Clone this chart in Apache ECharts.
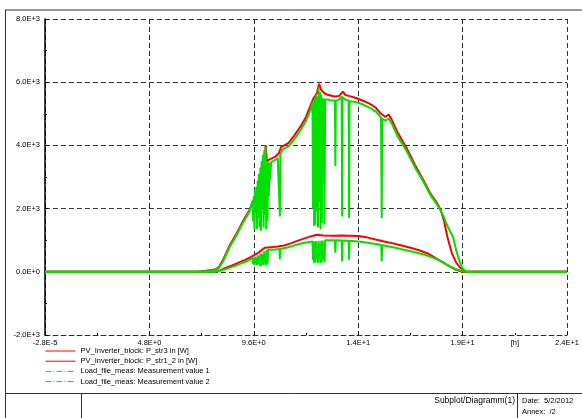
<!DOCTYPE html>
<html>
<head>
<meta charset="utf-8">
<script src="https://cdn.jsdelivr.net/npm/echarts@6/dist/echarts.min.js"></script>
<style>
  html, body { margin: 0; padding: 0; background: #fff; }
  #chart { width: 582px; height: 418px; }
</style>
</head>
<body>
<div id="chart"></div>
<script>
// Tick labels as printed by the plotting tool
const xTickLabels = ['-2.8E-5', '4.8E+0', '9.6E+0', '1.4E+1', '1.9E+1', '2.4E+1'];
const yTickLabels = ['-2.0E+3', '0.0E+0', '2.0E+3', '4.0E+3', '6.0E+3', '8.0E+3'];
const xUnitLabel = '[h]';

const seriesNames = [
  'PV_Inverter_block: P_str3 in [W]',
  'PV_Inverter_block: P_str1_2 in [W]',
  'Load_file_meas: Measurement value 1',
  'Load_file_meas: Measurement value 2'
];

// Simulated string power P_str3 [hour, W]
const pStr3 = [
  [0,0],[7.0,0],[7.4,30],[7.8,70],[8.0,150],[8.2,400],[8.5,850],[8.8,1200],[9.1,1600],[9.4,1950],
  [9.7,2450],[9.9,2900],[10.05,3300],[10.15,4000],[10.2,3500],[10.3,3550],[10.45,3600],[10.6,3650],
  [10.75,3750],[10.85,3950],[11.0,4000],[11.2,4080],[11.45,4300],[11.75,4600],[12.0,4900],[12.2,5250],
  [12.35,5500],[12.5,5650],[12.6,5950],[12.7,5750],[12.85,5650],[13.0,5600],[13.3,5550],[13.5,5560],
  [13.7,5700],[13.8,5600],[14.0,5560],[14.3,5500],[14.6,5420],[14.9,5330],[15.2,5200],[15.45,5000],
  [15.65,4900],[15.8,4980],[15.95,4800],[16.2,4420],[16.6,3950],[17.0,3400],[17.4,2900],[17.7,2500],
  [18.0,2200],[18.2,1950],[18.35,1600],[18.5,1100],[18.7,600],[18.9,300],[19.1,120],[19.35,0],[24,0]
];

// Simulated string power P_str1_2 [hour, W]
const pStr12 = [
  [0,0],[7.8,0],[8.0,30],[8.3,120],[8.6,200],[8.9,290],[9.2,380],[9.5,480],[9.8,600],[10.1,760],
  [10.4,780],[10.7,800],[11.0,830],[11.3,900],[11.6,980],[11.9,1050],[12.2,1120],[12.5,1170],
  [12.8,1150],[13.2,1140],[13.6,1150],[14.0,1140],[14.4,1130],[14.8,1090],[15.2,1020],[15.6,960],
  [16.0,900],[16.4,830],[16.8,760],[17.2,680],[17.6,580],[18.0,420],[18.3,300],[18.6,170],
  [18.9,60],[19.2,0],[24,0]
];

// Measured value 1 [hour, W]
const meas1 = [
  [0,0],[7.0,0],[7.4,20],[7.8,60],[8.0,120],[8.2,350],[8.5,800],[8.8,1150],[9.1,1550],[9.4,1900],[9.5,2150],
  [9.55,2250],[9.57,1600],[9.6,2400],[9.63,1350],[9.66,2600],[9.69,1900],[9.72,2700],[9.75,1350],
  [9.78,2900],[9.81,1700],[9.84,3100],[9.87,1400],[9.9,3300],[9.93,1300],[9.96,3500],[9.99,2000],
  [10.02,3700],[10.05,1400],[10.08,3850],[10.11,1800],[10.14,3950],[10.17,1350],[10.2,3450],
  [10.23,1600],[10.26,3500],[10.29,2400],[10.32,3450],[10.34,2900],[10.4,3480],[10.55,3520],
  [10.7,3600],[10.78,3650],[10.8,1750],[10.82,3700],[10.9,3850],[11.0,3900],[11.2,3970],[11.45,4180],
  [11.75,4480],[12.0,4780],[12.2,5120],
  [12.3,5350],[12.32,2000],[12.34,5400],[12.37,1450],[12.4,5500],[12.43,1500],[12.46,5600],
  [12.49,1900],[12.52,5550],[12.55,1400],[12.58,5850],[12.61,2200],[12.64,5700],[12.67,1350],
  [12.7,5600],[12.73,1550],[12.76,5500],[12.79,2800],[12.82,5480],[12.85,1500],[12.88,5450],
  [13.0,5450],[13.15,5420],[13.33,5420],[13.35,3350],[13.37,5420],[13.5,5430],[13.64,5560],
  [13.66,1750],[13.68,5520],[13.8,5450],[13.96,5420],[13.98,1700],[14.0,5400],[14.3,5370],
  [14.6,5300],[14.9,5200],[15.2,5080],[15.45,4880],[15.48,1700],[15.5,4850],[15.65,4780],
  [15.8,4850],[15.95,4680],[16.2,4300],[16.6,3850],[17.0,3320],[17.4,2850],[17.7,2450],[18.0,2150],
  [18.3,1800],[18.5,1450],[18.76,1100],[18.9,700],[19.05,350],[19.2,100],[19.4,0],[24,0]
];

// Measured value 2 [hour, W]
const meas2 = [
  [0,0],[7.8,0],[8.1,40],[8.4,110],[8.7,180],[9.0,260],[9.3,340],[9.55,440],[9.57,250],[9.6,460],
  [9.63,200],[9.66,480],[9.75,220],[9.78,520],[9.87,200],[9.9,560],[9.93,180],[9.96,580],[10.05,210],
  [10.08,650],[10.17,200],[10.2,690],[10.23,260],[10.26,700],[10.5,700],[10.78,720],[10.8,400],
  [10.82,720],[11.1,760],[11.4,820],[11.7,880],[12.0,930],[12.3,960],[12.32,380],[12.34,960],
  [12.37,280],[12.4,965],[12.43,300],[12.46,970],[12.55,290],[12.58,980],[12.67,280],[12.7,985],
  [12.73,320],[12.76,990],[12.85,300],[12.88,995],[13.0,1000],[13.33,995],[13.35,600],[13.37,995],
  [13.64,990],[13.66,330],[13.68,990],[13.96,985],[13.98,380],[14.0,980],[14.5,950],[15.0,900],
  [15.46,845],[15.48,330],[15.5,840],[16.0,780],[16.5,700],[17.0,620],[17.5,530],[18.0,400],
  [18.3,290],[18.6,180],[18.9,80],[19.2,20],[19.4,0],[24,0]
];

const RED = '#ff0000';
const GREEN = '#00e000';
const FONT = '"Liberation Sans", Arial, sans-serif';

const chart = echarts.init(document.getElementById('chart'), null, { renderer: 'canvas' });

const gridDash = { color: '#333', type: [5, 3], width: 1 };

chart.setOption({
  animation: false,
  backgroundColor: '#fff',
  textStyle: { fontFamily: FONT },
  grid: { left: 45, right: 10, top: 19, height: 316 },
  xAxis: [
    {
      type: 'value', min: 0, max: 24, interval: 4.8,
      axisLine: { show: true, onZero: false, lineStyle: { color: '#333', type: [5, 3], width: 1 } },
      axisTick: { show: true, inside: true, length: 3, lineStyle: { color: '#000' } },
      minorTick: { show: true, splitNumber: 2, length: 2, lineStyle: { color: '#000' } },
      splitLine: { show: true, lineStyle: gridDash },
      axisLabel: {
        fontSize: 7.5, color: '#000', margin: 4, fontFamily: FONT,
        formatter: (v) => xTickLabels[Math.round(v / 4.8)] ?? ''
      }
    },
    {
      type: 'value', min: 0, max: 24, interval: 2.4, position: 'bottom',
      axisLine: { show: false }, axisTick: { show: false }, splitLine: { show: false },
      axisLabel: {
        fontSize: 7.5, color: '#000', margin: 4, fontFamily: FONT,
        formatter: (v) => Math.abs(v - 21.6) < 1e-6 ? xUnitLabel : ''
      }
    }
  ],
  yAxis: {
    type: 'value', min: -2000, max: 8000, interval: 2000,
    axisLine: { show: true, onZero: false, lineStyle: { color: '#000', width: 1.5 } },
    axisTick: { show: true, inside: true, length: 3, lineStyle: { color: '#000' } },
    minorTick: { show: true, splitNumber: 2, length: 2, lineStyle: { color: '#000' } },
    splitLine: { show: true, lineStyle: gridDash },
    axisLabel: {
      fontSize: 7.5, color: '#000', margin: 5, fontFamily: FONT,
      formatter: (v) => yTickLabels[Math.round((v + 2000) / 2000)] ?? ''
    }
  },
  legend: {
    orient: 'vertical', left: 45, top: 347, padding: 0,
    itemWidth: 30, itemHeight: 8, itemGap: 2.2,
    textStyle: { fontSize: 7.5, color: '#000', fontFamily: FONT },
    lineStyle: { width: 1 },
    itemStyle: { opacity: 0 },
    data: [
      { name: seriesNames[0] },
      { name: seriesNames[1] },
      { name: seriesNames[2], lineStyle: { type: [6, 2, 1, 2], width: 1 } },
      { name: seriesNames[3], lineStyle: { type: [6, 2, 1, 2], width: 1 } }
    ]
  },
  series: [
    { name: seriesNames[0], type: 'line', data: pStr3, symbol: 'none', lineStyle: { color: RED, width: 2 }, itemStyle: { color: RED } },
    { name: seriesNames[1], type: 'line', data: pStr12, symbol: 'none', lineStyle: { color: RED, width: 2 }, itemStyle: { color: RED } },
    { name: seriesNames[2], type: 'line', data: meas1, symbol: 'none', lineStyle: { color: GREEN, width: 2 }, itemStyle: { color: GREEN } },
    { name: seriesNames[3], type: 'line', data: meas2, symbol: 'none', lineStyle: { color: GREEN, width: 2 }, itemStyle: { color: GREEN } }
  ],
  graphic: [
    // page frame and title block
    { type: 'line', shape: { x1: 5, y1: 10, x2: 582, y2: 10 }, style: { stroke: '#333', lineWidth: 1 } },
    { type: 'line', shape: { x1: 5.5, y1: 10, x2: 5.5, y2: 418 }, style: { stroke: '#333', lineWidth: 1 } },
    { type: 'line', shape: { x1: 5, y1: 393.5, x2: 582, y2: 393.5 }, style: { stroke: '#333', lineWidth: 1 } },
    { type: 'line', shape: { x1: 81.5, y1: 394, x2: 81.5, y2: 418 }, style: { stroke: '#333', lineWidth: 1 } },
    { type: 'line', shape: { x1: 517.5, y1: 394, x2: 517.5, y2: 418 }, style: { stroke: '#333', lineWidth: 1 } },
    { type: 'text', x: 515, y: 401, style: { text: 'Subplot/Diagramm(1)', fontSize: 8.5, fontFamily: FONT, fill: '#000', textAlign: 'right', textVerticalAlign: 'middle' } },
    { type: 'text', x: 522, y: 401, style: { text: 'Date:  5/2/2012', fontSize: 7.5, fontFamily: FONT, fill: '#000', textAlign: 'left', textVerticalAlign: 'middle' } },
    { type: 'text', x: 522, y: 412, style: { text: 'Annex:  /2', fontSize: 7.5, fontFamily: FONT, fill: '#000', textAlign: 'left', textVerticalAlign: 'middle' } }
  ]
});
</script>
</body>
</html>
